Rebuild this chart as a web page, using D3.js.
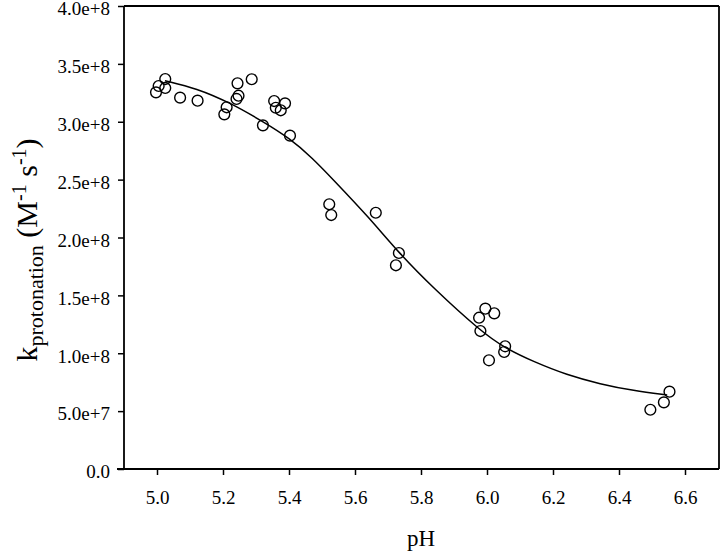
<!DOCTYPE html>
<html lang="en">
<head>
    <meta charset="UTF-8">
    <title>k protonation vs pH</title>
    <script src="https://d3js.org/d3.v7.min.js"></script>
    <style>
      body { margin: 0; background: #fff; }
      svg { display: block; font-family: "Liberation Serif", "Times New Roman", serif; }
      .axis path { display: none; }
      .axis line { stroke: #000; stroke-width: 1.5; }
    </style>
</head>
<body>
  <svg id="chart" width="720" height="552"></svg>
<script>
  // measured points (pH, rate constant)
  const phValues = [4.997, 5.005, 5.025, 5.025, 5.070, 5.123, 5.204, 5.211, 5.244, 5.247,
                    5.241, 5.287, 5.355, 5.360, 5.375, 5.388, 5.321, 5.403, 5.522, 5.528,
                    5.663, 5.733, 5.724, 5.995, 6.022, 5.976, 5.980, 6.055, 6.052, 6.006,
                    6.553, 6.536, 6.495];
  const kValues = [3.254e8, 3.309e8, 3.369e8, 3.292e8, 3.208e8, 3.182e8, 3.064e8, 3.125e8, 3.332e8, 3.225e8,
                   3.197e8, 3.367e8, 3.179e8, 3.121e8, 3.099e8, 3.159e8, 2.969e8, 2.880e8, 2.287e8, 2.194e8,
                   2.214e8, 1.866e8, 1.760e8, 1.385e8, 1.345e8, 1.307e8, 1.192e8, 1.060e8, 1.011e8, 0.939e8,
                   0.668e8, 0.576e8, 0.512e8];

  // fitted curve
  const fitPh = [5.024, 5.120, 5.221, 5.322, 5.403, 5.470, 5.535, 5.641, 5.733, 5.838,
                 5.980, 6.055, 6.141, 6.242, 6.343, 6.444, 6.546];
  const fitK = [3.355e8, 3.289e8, 3.165e8, 3.000e8, 2.855e8, 2.690e8, 2.497e8, 2.178e8, 1.866e8, 1.561e8,
                1.192e8, 1.043e8, 0.927e8, 0.812e8, 0.734e8, 0.676e8, 0.639e8];

  const xTicks = [5.0, 5.2, 5.4, 5.6, 5.8, 6.0, 6.2, 6.4, 6.6];
  const yTicks = [0, 5e7, 1e8, 1.5e8, 2e8, 2.5e8, 3e8, 3.5e8, 4e8];
  const yTickLabels = ["0.0", "5.0e+7", "1.0e+8", "1.5e+8", "2.0e+8", "2.5e+8", "3.0e+8", "3.5e+8", "4.0e+8"];

  const plot = { left: 124, right: 718, top: 6, bottom: 469 };
  const serif = "'Liberation Serif', 'Times New Roman', serif";

  const svg = d3.select("#chart");

  const x = d3.scaleLinear().domain([4.9, 6.7]).range([plot.left, plot.right]);
  const y = d3.scaleLinear().domain([0, 4e8]).range([plot.bottom, plot.top]);

  // x axis
  svg.append("g")
    .attr("class", "axis")
    .attr("transform", `translate(0,${plot.bottom})`)
    .call(d3.axisBottom(x).tickValues(xTicks).tickFormat(d3.format(".1f")).tickSize(6).tickPadding(16))
    .attr("font-family", serif)
    .attr("font-size", 19)
    .selectAll("text")
    .attr("fill", "#000");

  // y axis
  svg.append("g")
    .attr("class", "axis")
    .attr("transform", `translate(${plot.left},0)`)
    .call(d3.axisLeft(y).tickValues(yTicks).tickFormat((d, i) => yTickLabels[i]).tickSize(6).tickPadding(8))
    .attr("font-family", serif)
    .attr("font-size", 19)
    .selectAll("text")
    .attr("fill", "#000")
    .attr("dy", "0.46em");

  // frame
  const frame = svg.append("g").attr("stroke", "#000").attr("stroke-width", 1.8).attr("fill", "none");
  frame.append("line").attr("x1", plot.left - 7).attr("x2", plot.right + 1).attr("y1", plot.bottom).attr("y2", plot.bottom);
  frame.append("line").attr("x1", plot.left).attr("x2", plot.left).attr("y1", plot.top).attr("y2", plot.bottom);
  frame.append("line").attr("x1", plot.left).attr("x2", plot.right + 1).attr("y1", plot.top).attr("y2", plot.top);
  frame.append("line").attr("x1", plot.right + 1).attr("x2", plot.right + 1).attr("y1", plot.top).attr("y2", plot.bottom);

  // fitted line
  const line = d3.line()
    .x(d => x(d[0]))
    .y(d => y(d[1]))
    .curve(d3.curveBasis);

  svg.append("path")
    .datum(d3.zip(fitPh, fitK))
    .attr("d", line)
    .attr("fill", "none")
    .attr("stroke", "#000")
    .attr("stroke-width", 1.5);

  // points
  svg.append("g")
    .selectAll("circle")
    .data(d3.zip(phValues, kValues))
    .join("circle")
    .attr("cx", d => x(d[0]))
    .attr("cy", d => y(d[1]))
    .attr("r", 5.4)
    .attr("fill", "none")
    .attr("stroke", "#000")
    .attr("stroke-width", 1.4);

  // axis titles
  svg.append("text")
    .attr("x", (plot.left + plot.right) / 2)
    .attr("y", 546)
    .attr("text-anchor", "middle")
    .attr("font-size", 23)
    .text("pH");

  const yTitle = svg.append("text")
    .attr("transform", `translate(37,250) rotate(-90)`)
    .attr("text-anchor", "middle")
    .attr("font-size", 30);
  yTitle.append("tspan").text("k");
  yTitle.append("tspan").attr("font-size", 22).attr("dy", 6).text("protonation");
  yTitle.append("tspan").attr("dy", -6).text(" (M");
  yTitle.append("tspan").attr("font-size", 20).attr("dy", -11).text("-1");
  yTitle.append("tspan").attr("dy", 11).text(" s");
  yTitle.append("tspan").attr("font-size", 20).attr("dy", -11).text("-1");
  yTitle.append("tspan").attr("dy", 11).text(")");
</script>
</body>
</html>
